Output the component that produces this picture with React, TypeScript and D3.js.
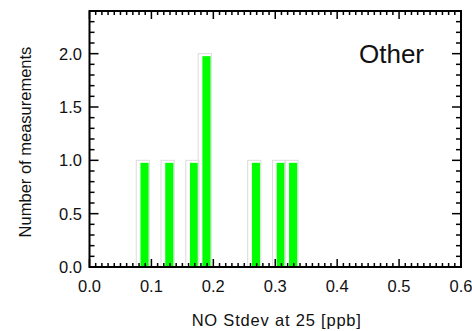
import React from "react";
import * as d3 from "d3";

const binStarts = [0.0755, 0.1155, 0.1555, 0.1755, 0.2555, 0.2955, 0.3155];
const counts = [1, 1, 1, 2, 1, 1, 1];
const binWidth = 0.02;
const xTicks = [0.0, 0.1, 0.2, 0.3, 0.4, 0.5, 0.6];
const yTicks = [0.0, 0.5, 1.0, 1.5, 2.0];
const label = "Other";
const xTitle = "NO Stdev at 25 [ppb]";
const yTitle = "Number of measurements";

const W = 472;
const H = 331;
const left = 89.5;
const right = 461;
const top = 11;
const bottom = 267;

export default function App() {
  const x = d3.scaleLinear().domain([0, 0.6]).range([left, right]);
  const y = d3.scaleLinear().domain([0, 2.4]).range([bottom, top]);
  const xMinor = d3.range(0, 61).map((i) => i / 100);
  const yMinor = d3.range(0, 25).map((i) => i / 10);
  const font = "'Liberation Sans', Arial, Helvetica, sans-serif";
  const isMajorX = (v: number) => Math.abs(v * 10 - Math.round(v * 10)) < 1e-6;
  const isMajorY = (v: number) => Math.abs(v * 2 - Math.round(v * 2)) < 1e-6;
  return (
    <svg width={W} height={H} style={{ position: "absolute", left: 0, top: 0, background: "#fff" }}>
      <rect x={0} y={0} width={W} height={H} fill="#fff" />
      {binStarts.map((b, i) => (
        <g key={i}>
          <rect
            x={x(b)}
            y={y(counts[i])}
            width={x(b + binWidth) - x(b) + 0.8}
            height={y(0) - y(counts[i])}
            fill="none"
            stroke="#dcdcdc"
            strokeWidth={1}
          />
          <rect
            x={x(b + binWidth * 0.34)}
            y={y(counts[i]) + 2.5}
            width={x(b + binWidth) - x(b + binWidth * 0.34)}
            height={y(0) - y(counts[i]) - 2.5}
            fill="#00ff00"
          />
        </g>
      ))}
      {xMinor.map((v, i) => {
        const len = isMajorX(v) ? 8 : 4;
        return (
          <g key={"xm" + i} stroke="#000" strokeWidth={1.5}>
            <line x1={x(v)} x2={x(v)} y1={bottom} y2={bottom - len} />
            <line x1={x(v)} x2={x(v)} y1={top} y2={top + len} />
          </g>
        );
      })}
      {yMinor.map((v, i) => {
        const len = isMajorY(v) ? 9 : 5;
        return (
          <g key={"ym" + i} stroke="#000" strokeWidth={1.5}>
            <line x1={left} x2={left + len} y1={y(v)} y2={y(v)} />
            <line x1={right} x2={right - len} y1={y(v)} y2={y(v)} />
          </g>
        );
      })}
      <rect x={left} y={top} width={right - left} height={bottom - top} fill="none" stroke="#000" strokeWidth={2} />
      {xTicks.map((v) => (
        <text key={"xt" + v} x={x(v)} y={292} textAnchor="middle" fontFamily={font} fontSize={16.5} fill="#111">
          {v.toFixed(1)}
        </text>
      ))}
      {yTicks.map((v) => (
        <text key={"yt" + v} x={82} y={y(v) + 6} textAnchor="end" fontFamily={font} fontSize={16.5} fill="#111">
          {v.toFixed(1)}
        </text>
      ))}
      <text x={276.7} y={326} textAnchor="middle" fontFamily={font} fontSize={16.5} letterSpacing={0.8} fill="#111">
        {xTitle}
      </text>
      <text
        transform={`translate(31, ${(top + bottom) / 2 + 3}) rotate(-90)`}
        textAnchor="middle"
        fontFamily={font}
        fontSize={16.5}
        fill="#111"
      >
        {yTitle}
      </text>
      <text x={424} y={63} textAnchor="end" fontFamily={font} fontSize={26} fill="#111">
        {label}
      </text>
    </svg>
  );
}
